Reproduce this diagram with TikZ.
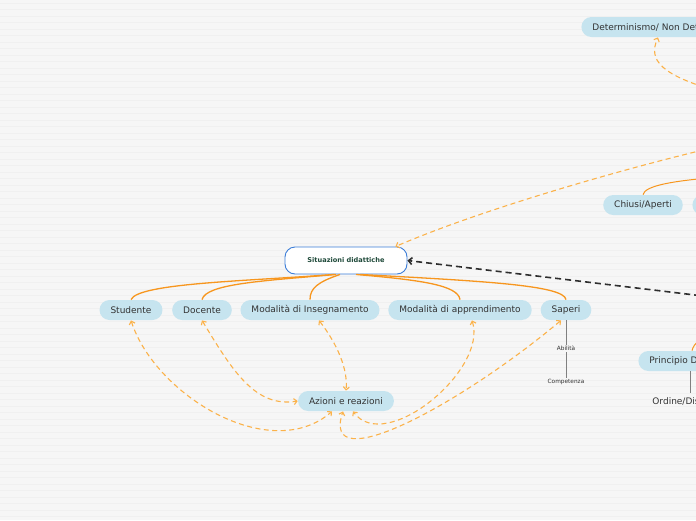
\documentclass[tikz,border=0pt]{standalone}
\usepackage{fontspec}
\setmainfont{DejaVu Sans}
\usetikzlibrary{arrows.meta}
\definecolor{paper}{HTML}{F6F6F6}
\definecolor{rule}{HTML}{F0F0F0}
\definecolor{topic}{HTML}{C6E4EF}
\definecolor{ink}{HTML}{333333}
\definecolor{branch}{HTML}{F7961E}
\definecolor{rel}{HTML}{FBB24A}
\definecolor{frame}{HTML}{3B7DD8}
\definecolor{titleink}{HTML}{1F4A3A}

\begin{document}
\begin{tikzpicture}[x=1pt,y=-1pt,line width=.8pt,
  topic/.style={fill=topic,text=ink,rounded corners=10pt,minimum height=20pt,inner xsep=11pt,font=\fontsize{9}{10}\selectfont},
  sub/.style={text=ink,inner sep=1pt,font=\fontsize{5.8}{6}\selectfont},
  tree/.style={branch,line width=1.3pt},
  link/.style={rel,line width=1.1pt,dash pattern=on 5pt off 3.5pt,>={Straight Barb[length=3pt,width=6pt]}}]
\useasboundingbox (0,0) rectangle (696,520);
\clip (0,0) rectangle (696,520);
\fill[paper] (0,0) rectangle (696,520);
\foreach \y in {3,9.5,...,520} \draw[rule,line width=.6pt] (0,\y)--(696,\y);

\node[draw=frame,fill=white,line width=.9pt,rounded corners=10pt,minimum width=122pt,minimum height=27pt,text=titleink,font=\bfseries\fontsize{6.6}{7}\selectfont] (sit) at (346,260.5) {Situazioni didattiche};
\node[topic] (stud) at (131,310) {Studente};
\node[topic] (doc) at (202,310) {Docente};
\node[topic] (ins) at (310,310) {Modalità di Insegnamento};
\node[topic] (app) at (460,310) {Modalità di apprendimento};
\node[topic] (sap) at (566,310) {Saperi};
\node[sub] (abi) at (566,348.5) {Abilità};
\node[sub] (comp) at (566,382) {Competenza};
\node[topic] (az) at (346,401) {Azioni e reazioni};
\node[topic,anchor=west] (det) at (581,27) {Determinismo/ Non Determinismo};
\node[topic] (chi) at (643,205) {Chiusi/Aperti};
\node[topic,anchor=west,minimum width=60pt] (nx) at (692,205) {};
\node[topic,anchor=west] (pri) at (638,361) {Principio Dialogico};
\node[anchor=west,text=ink,inner sep=1pt,font=\fontsize{9}{10}\selectfont] (ord) at (651,401.5) {Ordine/Disordine};
\coordinate (r1) at (720,177); \coordinate (r2) at (720,330);
\coordinate (e1) at (720,146); \coordinate (e2) at (720,92); \coordinate (e3) at (720,298);

% branches
\draw[tree] ([xshift=-12pt]sit.south) .. controls (250,281) and (138,283) .. (stud.north);
\draw[tree] ([xshift=-10pt]sit.south) .. controls (260,281) and (206,284) .. (doc.north);
\draw[tree] ([xshift=-6pt]sit.south) .. controls (318,282) and (310,288) .. (ins.north);
\draw[tree] ([xshift=10pt]sit.south) .. controls (420,280) and (458,285) .. (app.north);
\draw[tree] ([xshift=14pt]sit.south) .. controls (480,281) and (564,285) .. (sap.north);
\draw[tree,line width=1pt] (chi.north) .. controls (645,186) and (670,181) .. (r1);
\draw[tree,line width=1pt] ([xshift=54pt]pri.north west) .. controls (694,343) and (700,338) .. (r2);
\draw[gray,line width=.6pt] (sap.south)--(abi.north) (abi.south)--(comp.north);
\draw[gray,line width=.6pt] (690,371)--(690,393);

% relations
\draw[link,<->] (stud.south) .. controls (155,395) and (270,465) .. ([xshift=-14pt]az.south);
\draw[link,<->] (doc.south) .. controls (232,370) and (255,408) .. (az.west);
\draw[link,<->] ([xshift=9pt]ins.south) .. controls (338,345) and (348,370) .. (az.north);
\draw[link,<->] ([xshift=12pt]app.south) .. controls (488,370) and (385,455) .. ([xshift=7pt]az.south);
\draw[link,<->] ([xshift=-5pt]sap.south) .. controls (460,405) and (320,480) .. ([xshift=-3pt]az.south);
\draw[link,->] (e1) .. controls (625,168) and (480,210) .. ([xshift=-12pt]sit.north east);
\draw[link,->] (e2) .. controls (660,75) and (648,60) .. ([xshift=77pt]det.south west);
\draw[ink!90!black,line width=1.6pt,dash pattern=on 6pt off 4pt,-{Straight Barb[length=3.5pt,width=7pt]}] (e3) -- (sit.east);
\end{tikzpicture}
\end{document}
